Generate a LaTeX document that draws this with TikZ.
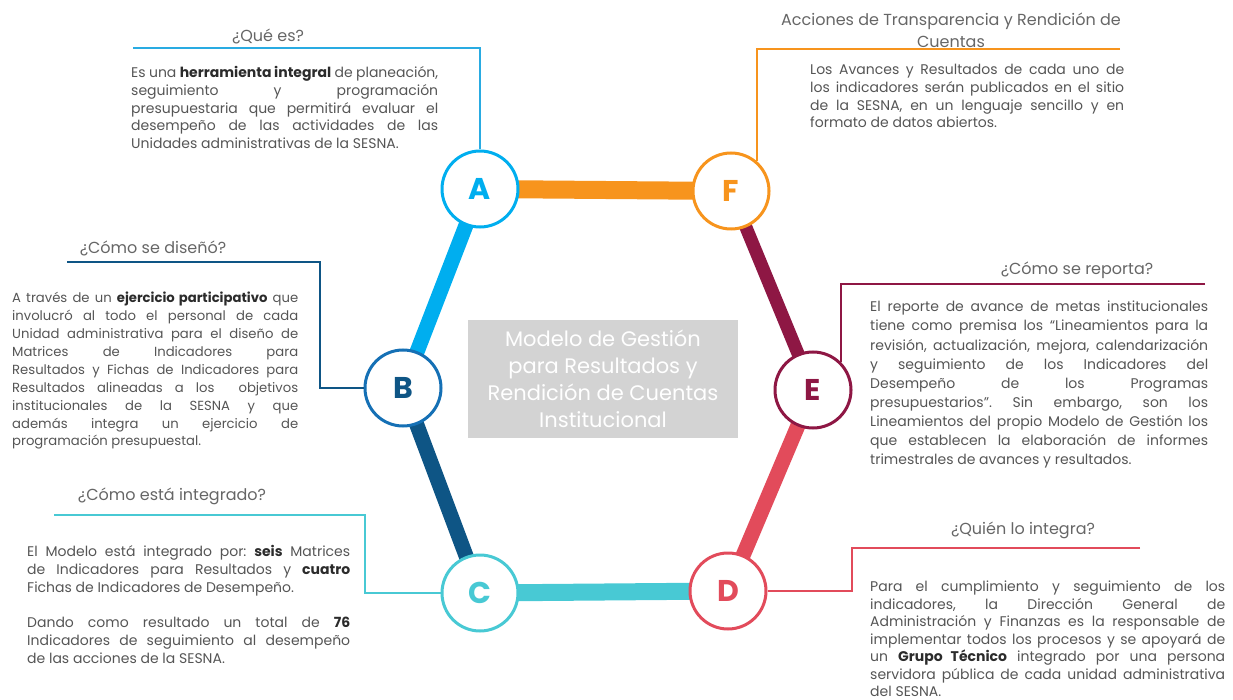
\documentclass[tikz,border=0pt]{standalone}
\usepackage{fontspec}
\setmainfont{Poppins}
\usetikzlibrary{backgrounds}
\frenchspacing
\definecolor{cA}{HTML}{00AEEF}
\definecolor{cAl}{HTML}{29ABE2}
\definecolor{cB}{HTML}{1570B5}
\definecolor{cBd}{HTML}{0E5585}
\definecolor{cC}{HTML}{48C9D4}
\definecolor{cD}{HTML}{E24B5B}
\definecolor{cE}{HTML}{8E1744}
\definecolor{cF}{HTML}{F7941D}
\definecolor{txt}{HTML}{555555}
\definecolor{txtb}{HTML}{2B2B2B}
\definecolor{ttl}{HTML}{666666}
\definecolor{boxg}{HTML}{D3D3D3}
\newcommand{\hb}[1]{\textbf{\color{txtb}#1}}
\begin{document}
\begin{tikzpicture}[x=1pt,y=-1pt,
 hub/.style={circle, draw=#1, fill=white, line width=3pt, minimum size=76pt, inner sep=0pt, text=#1, font=\fontsize{30}{30}\bfseries\selectfont},
 body/.style={anchor=north west, inner sep=0pt, text width=#1, align=justify, text=txt, font=\fontsize{14}{17.8}\selectfont\frenchspacing},
 ttlstyle/.style={text=ttl, font=\fontsize{16}{22}\selectfont, inner sep=0pt},
 callout/.style={draw=#1, line width=1.8pt}
]
\useasboundingbox (0,0) rectangle (1233,700);

% hub circles
\node[hub=cA] (A) at (480,189) {A};
\node[hub=cF] (F) at (731,191) {F};
\node[hub=cB, text=cBd] (B) at (403,388) {B};
\node[hub=cE] (E) at (813,390) {E};
\node[hub=cC] (C) at (480,593) {C};
\node[hub=cD] (D) at (728,591) {D};

% hexagon edges
\begin{scope}[on background layer]
\draw[cF, line width=18pt] (A.center) -- (F.center);
\draw[cA, line width=15pt] (A.center) -- (B.center);
\draw[cBd, line width=15pt] (B.center) -- (C.center);
\draw[cC, line width=17pt] (C.center) -- (D.center);
\draw[cD, line width=15pt] (D.center) -- (E.center);
\draw[cE, line width=13pt] (E.center) -- (F.center);
\end{scope}

% center box
\node[fill=boxg, minimum width=270pt, minimum height=118pt, text=white, align=center, font=\fontsize{21}{27}\selectfont, inner sep=0pt] (M) at (603,379) {Modelo de Gestión\\para Resultados y\\Rendición de Cuentas\\Institucional};

% titles
\node[ttlstyle] (tA) at (268,36) {¿Qué es?};
\node[ttlstyle] (tB) at (153,248) {¿Cómo se diseñó?};
\node[ttlstyle] (tC) at (172,496) {¿Cómo está integrado?};
\node[ttlstyle, align=center] (tF) at (951,30) {Acciones de Transparencia y Rendición de\\Cuentas};
\node[ttlstyle] (tE) at (1077,270) {¿Cómo se reporta?};
\node[ttlstyle] (tD) at (1023,530) {¿Quién lo integra?};

% callout lines
\coordinate (a1) at (133,48);
\draw[callout=cAl] (a1) -| (A);
\coordinate (b1) at (67,262);
\coordinate (b2) at (320,262);
\draw[callout=cBd] (b1) -- (b2) |- (B);
\coordinate (c1) at (54,515);
\coordinate (c2) at (365,515);
\draw[callout=cC] (c1) -- (c2) |- (C);
\coordinate (f1) at (1120,49);
\draw[callout=cF] (f1) -- (F.49 |- f1) -- (F.49);
\coordinate (e1) at (1205,284);
\draw[callout=cE] (e1) -- (E.45 |- e1) -- (E.45);
\coordinate (d1) at (1140,548);
\coordinate (d2) at (852,548);
\draw[callout=cD] (d1) -- (d2) |- (D);

% body texts
\node[body=307pt] (xA) at (131,66) {Es una \hb{herramienta integral} de planeación,\linebreak seguimiento y programación\linebreak presupuestaria que permitirá evaluar el\linebreak desempeño de las actividades de las\linebreak Unidades administrativas de la SESNA.};

\node[body=286pt, font=\fontsize{13.2}{17.9}\selectfont] (xB) at (12,292) {A través de un \hb{ejercicio participativo} que\linebreak involucró al todo el personal de cada\linebreak Unidad administrativa para el diseño de\linebreak Matrices de Indicadores para\linebreak Resultados y Fichas de Indicadores para\linebreak Resultados alineadas a los\ \ objetivos\linebreak institucionales de la SESNA y que\linebreak además integra un ejercicio de\linebreak programación presupuestal.};

\node[body=323pt] (xC) at (27,545) {El Modelo está integrado por: \hb{seis} Matrices\linebreak de Indicadores para Resultados y \hb{cuatro}\linebreak Fichas de Indicadores de Desempeño.\par\vspace{17.8pt}Dando como resultado un total de \hb{76}\linebreak Indicadores de seguimiento al desempeño\linebreak de las acciones de la SESNA.};

\node[body=314pt] (xF) at (810,64) {Los Avances y Resultados de cada uno de\linebreak los indicadores serán publicados en el sitio\linebreak de la SESNA, en un lenguaje sencillo y en\linebreak formato de datos abiertos.};

\node[body=338pt, font=\fontsize{14}{19.1}\selectfont] (xE) at (870,301) {El reporte de avance de metas institucionales\linebreak tiene como premisa los “Lineamientos para la\linebreak revisión, actualización, mejora, calendarización\linebreak y seguimiento de los Indicadores del\linebreak Desempeño de los Programas\linebreak presupuestarios”. Sin embargo, son los\linebreak Lineamientos del propio Modelo de Gestión los\linebreak que establecen la elaboración de informes\linebreak trimestrales de avances y resultados.};

\node[body=355pt, font=\fontsize{14}{17.5}\selectfont] (xD) at (870,581) {Para el cumplimiento y seguimiento de los\linebreak indicadores, la Dirección General de\linebreak Administración y Finanzas es la responsable de\linebreak implementar todos los procesos y se apoyará de\linebreak un \hb{Grupo Técnico} integrado por una persona\linebreak servidora pública de cada unidad administrativa\linebreak del SESNA.};
\end{tikzpicture}
\end{document}
